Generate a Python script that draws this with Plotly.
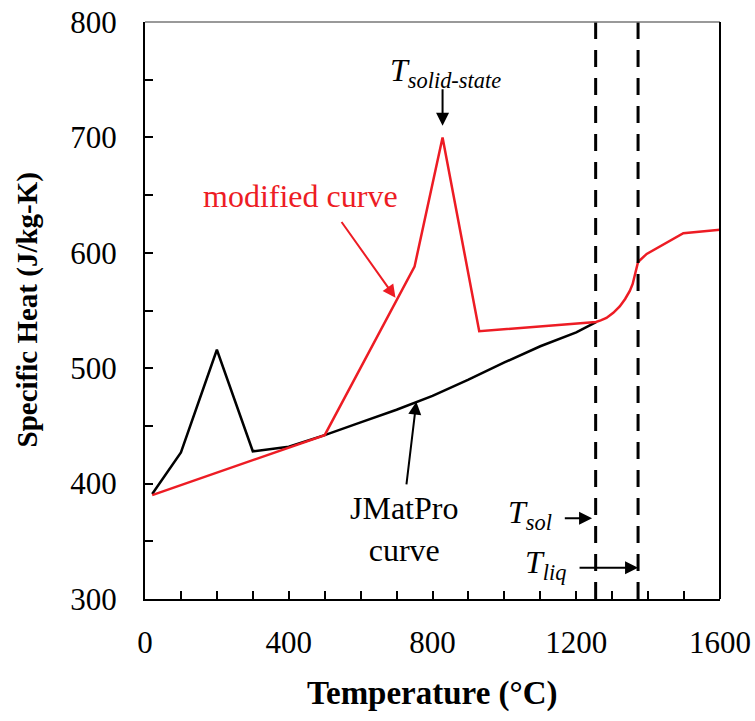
import plotly.graph_objects as go

# JMatPro curve
jm_T = [20, 100, 200, 300, 400, 500, 600, 700, 800, 900, 1000, 1100, 1200, 1255]
jm_cp = [391, 427, 516, 428, 432, 442, 453, 464, 476, 490, 505, 519, 531, 540]

# modified curve
mod_T = [20, 500, 750, 828, 930, 1255, 1268, 1284, 1303, 1321, 1336, 1349, 1357,
         1363, 1367, 1372, 1396, 1498, 1600]
mod_cp = [390, 442, 588, 700, 532, 540, 541.5, 543.5, 548, 553.5, 560, 567, 573,
          580, 586, 592, 599, 617, 620]

T_sol = 1254
T_liq = 1372

FONT = "Liberation Serif"
RED = "#ED1C24"

fig = go.Figure()
fig.add_trace(go.Scatter(x=jm_T, y=jm_cp, mode="lines",
                         line=dict(color="black", width=2.5), showlegend=False))
fig.add_trace(go.Scatter(x=mod_T, y=mod_cp, mode="lines",
                         line=dict(color=RED, width=2.5), showlegend=False))

for tv in (T_sol, T_liq):
    fig.add_shape(type="line", x0=tv, x1=tv, y0=300, y1=800, xref="x", yref="y",
                  line=dict(color="black", width=3, dash="17px,11px"))

# frame: top (grey thin) and right
fig.add_shape(type="line", x0=0, x1=1, y0=1, y1=1, xref="paper", yref="paper",
              line=dict(color="#777777", width=1.5))
fig.add_shape(type="line", x0=1, x1=1, y0=0, y1=1, xref="paper", yref="paper",
              line=dict(color="black", width=2))

def arrow(x, y, ax, ay, color="black"):
    fig.add_annotation(x=x, y=y, ax=ax, ay=ay, xref="x", yref="y", axref="x", ayref="y",
                       text="", showarrow=True, arrowhead=2, arrowsize=1.3,
                       arrowwidth=2, arrowcolor=color, standoff=0, startstandoff=0)

def label(x, y, text, size=32, color="black"):
    fig.add_annotation(x=x, y=y, xref="x", yref="y", text=text, showarrow=False,
                       font=dict(family=FONT, size=size, color=color),
                       xanchor="center", yanchor="middle")

label(433, 649, "modified curve", color=RED)
arrow(697, 561, 544, 628, color=RED)

label(837, 756, "<i>T</i><sub><i>solid-state</i></sub>", size=32)
arrow(828, 710, 828, 743)

label(720, 361, "JMatPro<br>curve", size=32)
arrow(755, 471, 727, 398)

label(1070, 373, "<i>T</i><sub><i>sol</i></sub>", size=32)
arrow(1244, 370, 1164, 370)

label(1115, 330, "<i>T</i><sub><i>liq</i></sub>", size=32)
arrow(1372, 327, 1205, 327)

fig.add_annotation(x=0.5, y=0, xref="paper", yref="paper", yshift=-94,
                   text="<b>Temperature (°C)</b>", showarrow=False,
                   font=dict(family=FONT, size=33, color="black"),
                   xanchor="center", yanchor="middle")
fig.add_annotation(x=0, y=0.5, xref="paper", yref="paper", xshift=-118,
                   text="<b>Specific Heat (J/kg-K)</b>", showarrow=False, textangle=-90,
                   font=dict(family=FONT, size=29, color="black"),
                   xanchor="center", yanchor="middle")

fig.update_xaxes(range=[0, 1600], tickvals=[0, 400, 800, 1200, 1600],
                 ticks="inside", ticklen=8, tickwidth=2, tickcolor="black",
                 minor=dict(dtick=100, tick0=0, ticks="inside", ticklen=8, tickwidth=2,
                            tickcolor="black", showgrid=False),
                 showline=True, linecolor="black", linewidth=2, showgrid=False,
                 zeroline=False, ticklabelstandoff=15, automargin=False,
                 tickfont=dict(family=FONT, size=31, color="black"))
fig.update_yaxes(range=[300, 800], tickvals=[300, 400, 500, 600, 700, 800],
                 ticks="inside", ticklen=8, tickwidth=2, tickcolor="black",
                 minor=dict(dtick=50, tick0=300, ticks="inside", ticklen=8, tickwidth=2,
                            tickcolor="black", showgrid=False),
                 showline=True, linecolor="black", linewidth=2, showgrid=False,
                 zeroline=False, ticklabelstandoff=20, automargin=False,
                 tickfont=dict(family=FONT, size=31, color="black"))

fig.update_layout(width=755, height=721, margin=dict(l=145, r=35, t=22, b=122),
                  paper_bgcolor="white", plot_bgcolor="white", showlegend=False)

fig.write_html("out.html")
